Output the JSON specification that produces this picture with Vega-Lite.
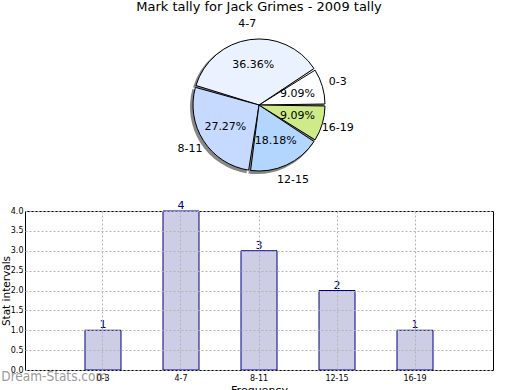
{
  "$schema": "https://vega.github.io/schema/vega-lite/v6.json",
  "padding": 0,
  "background": "white",
  "config": {
    "font": "DejaVu Sans",
    "view": {"stroke": null},
    "title": {"font": "DejaVu Sans", "fontWeight": "normal", "color": "black"},
    "axis": {"labelFont": "DejaVu Sans", "titleFont": "DejaVu Sans", "titleFontWeight": "normal", "labelColor": "black", "titleColor": "black"}
  },
  "data": {
    "values": [
      {"idx": 1, "range": "0-3", "count": 1, "pct": "9.09%"},
      {"idx": 2, "range": "4-7", "count": 4, "pct": "36.36%"},
      {"idx": 3, "range": "8-11", "count": 3, "pct": "27.27%"},
      {"idx": 4, "range": "12-15", "count": 2, "pct": "18.18%"},
      {"idx": 5, "range": "16-19", "count": 1, "pct": "9.09%"}
    ]
  },
  "bounds": "flush",
  "spacing": 34,
  "vconcat": [
    {
      "width": 468,
      "height": 144,
      "title": {"text": "Mark tally for Jack Grimes - 2009 tally", "fontSize": 13, "offset": 4},
      "view": {"stroke": null},
      "encoding": {
        "theta": {"field": "count", "type": "quantitative", "stack": true, "scale": {"range": [1.5708, 7.854]}},
        "order": {"field": "idx", "sort": "descending"}
      },
      "layer": [
        {
          "mark": {"type": "arc", "outerRadius": 67, "padAngle": 0.03, "fill": "#888888", "xOffset": -2, "yOffset": 2}
        },
        {
          "mark": {"type": "arc", "outerRadius": 66, "padAngle": 0.03, "stroke": "black", "strokeWidth": 1},
          "encoding": {
            "color": {
              "field": "range", "type": "nominal", "legend": null,
              "scale": {"domain": ["0-3", "4-7", "8-11", "12-15", "16-19"], "range": ["#FFFFFF", "#EBF2FF", "#C6D9FF", "#B3D6FF", "#CFEA88"]}
            }
          }
        },
        {
          "mark": {"type": "text", "radius": 40, "fontSize": 11, "color": "black"},
          "encoding": {"text": {"field": "pct"}}
        },
        {
          "mark": {"type": "text", "radius": 82, "fontSize": 11, "color": "black"},
          "encoding": {"text": {"field": "range"}}
        }
      ]
    },
    {
      "width": 468,
      "height": 159,
      "title": {"text": "Dream-Stats.com", "orient": "bottom", "anchor": "start", "frame": "bounds", "font": "DejaVu Sans Condensed", "fontSize": 13.5, "fontWeight": "normal", "color": "#9a9a9a", "offset": -25},
      "view": {"stroke": "black", "strokeWidth": 1},
      "encoding": {
        "x": {
          "field": "range", "type": "nominal", "sort": null,
          "scale": {"paddingInner": 0.5385, "paddingOuter": 0.769},
          "axis": {"title": "Frequency", "titleFontSize": 11, "labelFontSize": 8, "labelAngle": 0, "ticks": false, "labelPadding": 4, "domain": false, "grid": true, "gridColor": "#b4b4b4", "gridDash": [2, 2], "zindex": 1, "titlePadding": 2}
        },
        "y": {
          "field": "count", "type": "quantitative",
          "scale": {"domain": [0, 4], "nice": false},
          "axis": {"title": "Stat intervals", "titleFontSize": 10.5, "labelFontSize": 8, "format": ".1f", "values": [0, 0.5, 1, 1.5, 2, 2.5, 3, 3.5, 4], "ticks": false, "labelPadding": 2, "domain": false, "grid": true, "gridColor": "#b4b4b4", "gridDash": [2, 2], "zindex": 1, "titlePadding": -1}
        }
      },
      "layer": [
        {"mark": {"type": "bar", "fill": "#CDCDE5", "stroke": "#000080", "strokeWidth": 1}},
        {
          "mark": {"type": "text", "baseline": "bottom", "fontSize": 11, "color": "#000080", "dy": 0},
          "encoding": {"text": {"field": "count", "type": "quantitative"}}
        }
      ]
    }
  ]
}
